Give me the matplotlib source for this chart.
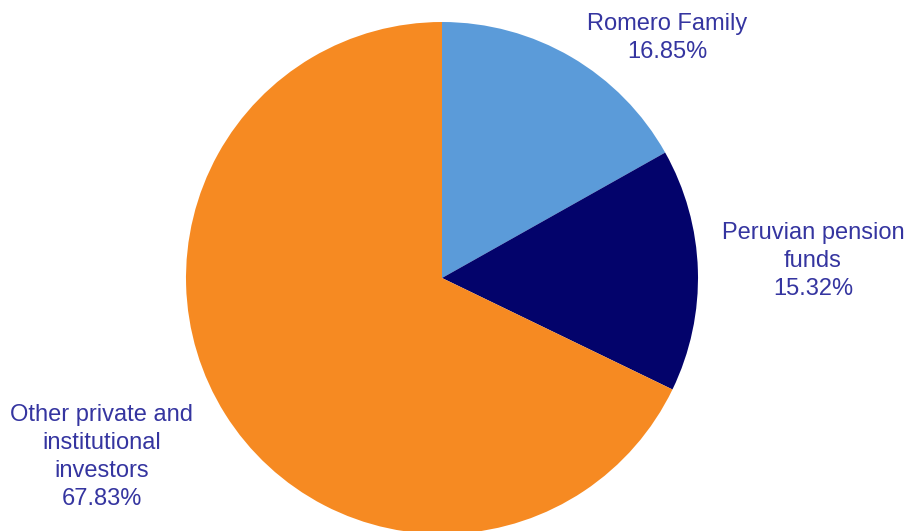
import matplotlib.pyplot as plt

plt.rcParams['font.family'] = ['Liberation Sans', 'DejaVu Sans']

holders = ['Romero Family', 'Peruvian pension\nfunds', 'Other private and\ninstitutional\ninvestors']
shares = [16.85, 15.32, 67.83]
colors = ['#5b9bd9', '#03036b', '#f68a22']
label_color = '#3535a0'

W, H = 908, 531
fig = plt.figure(figsize=(W / 100, H / 100), dpi=100)

# pie centred at (442, 278) px with radius 256 px
cx, cy, r = 442, 278, 256
ax = fig.add_axes([(cx - r) / W, (H - cy - r) / H, 2 * r / W, 2 * r / H])
ax.pie(shares, colors=colors, startangle=90, counterclock=False, radius=1,
       wedgeprops=dict(linewidth=0))
ax.set_xlim(-1, 1)
ax.set_ylim(-1, 1)
ax.set_aspect('equal')
ax.axis('off')

# label block centres (pixels)
label_pos = [(667, 38), (813, 261), (102, 457)]
for name, val, (x, y) in zip(holders, shares, label_pos):
    fig.text(x / W, 1 - y / H, f'{name}\n{val:.2f}%', ha='center', va='center',
             fontsize=17, color=label_color, linespacing=1.34)

fig.savefig('out.png', dpi=100)
